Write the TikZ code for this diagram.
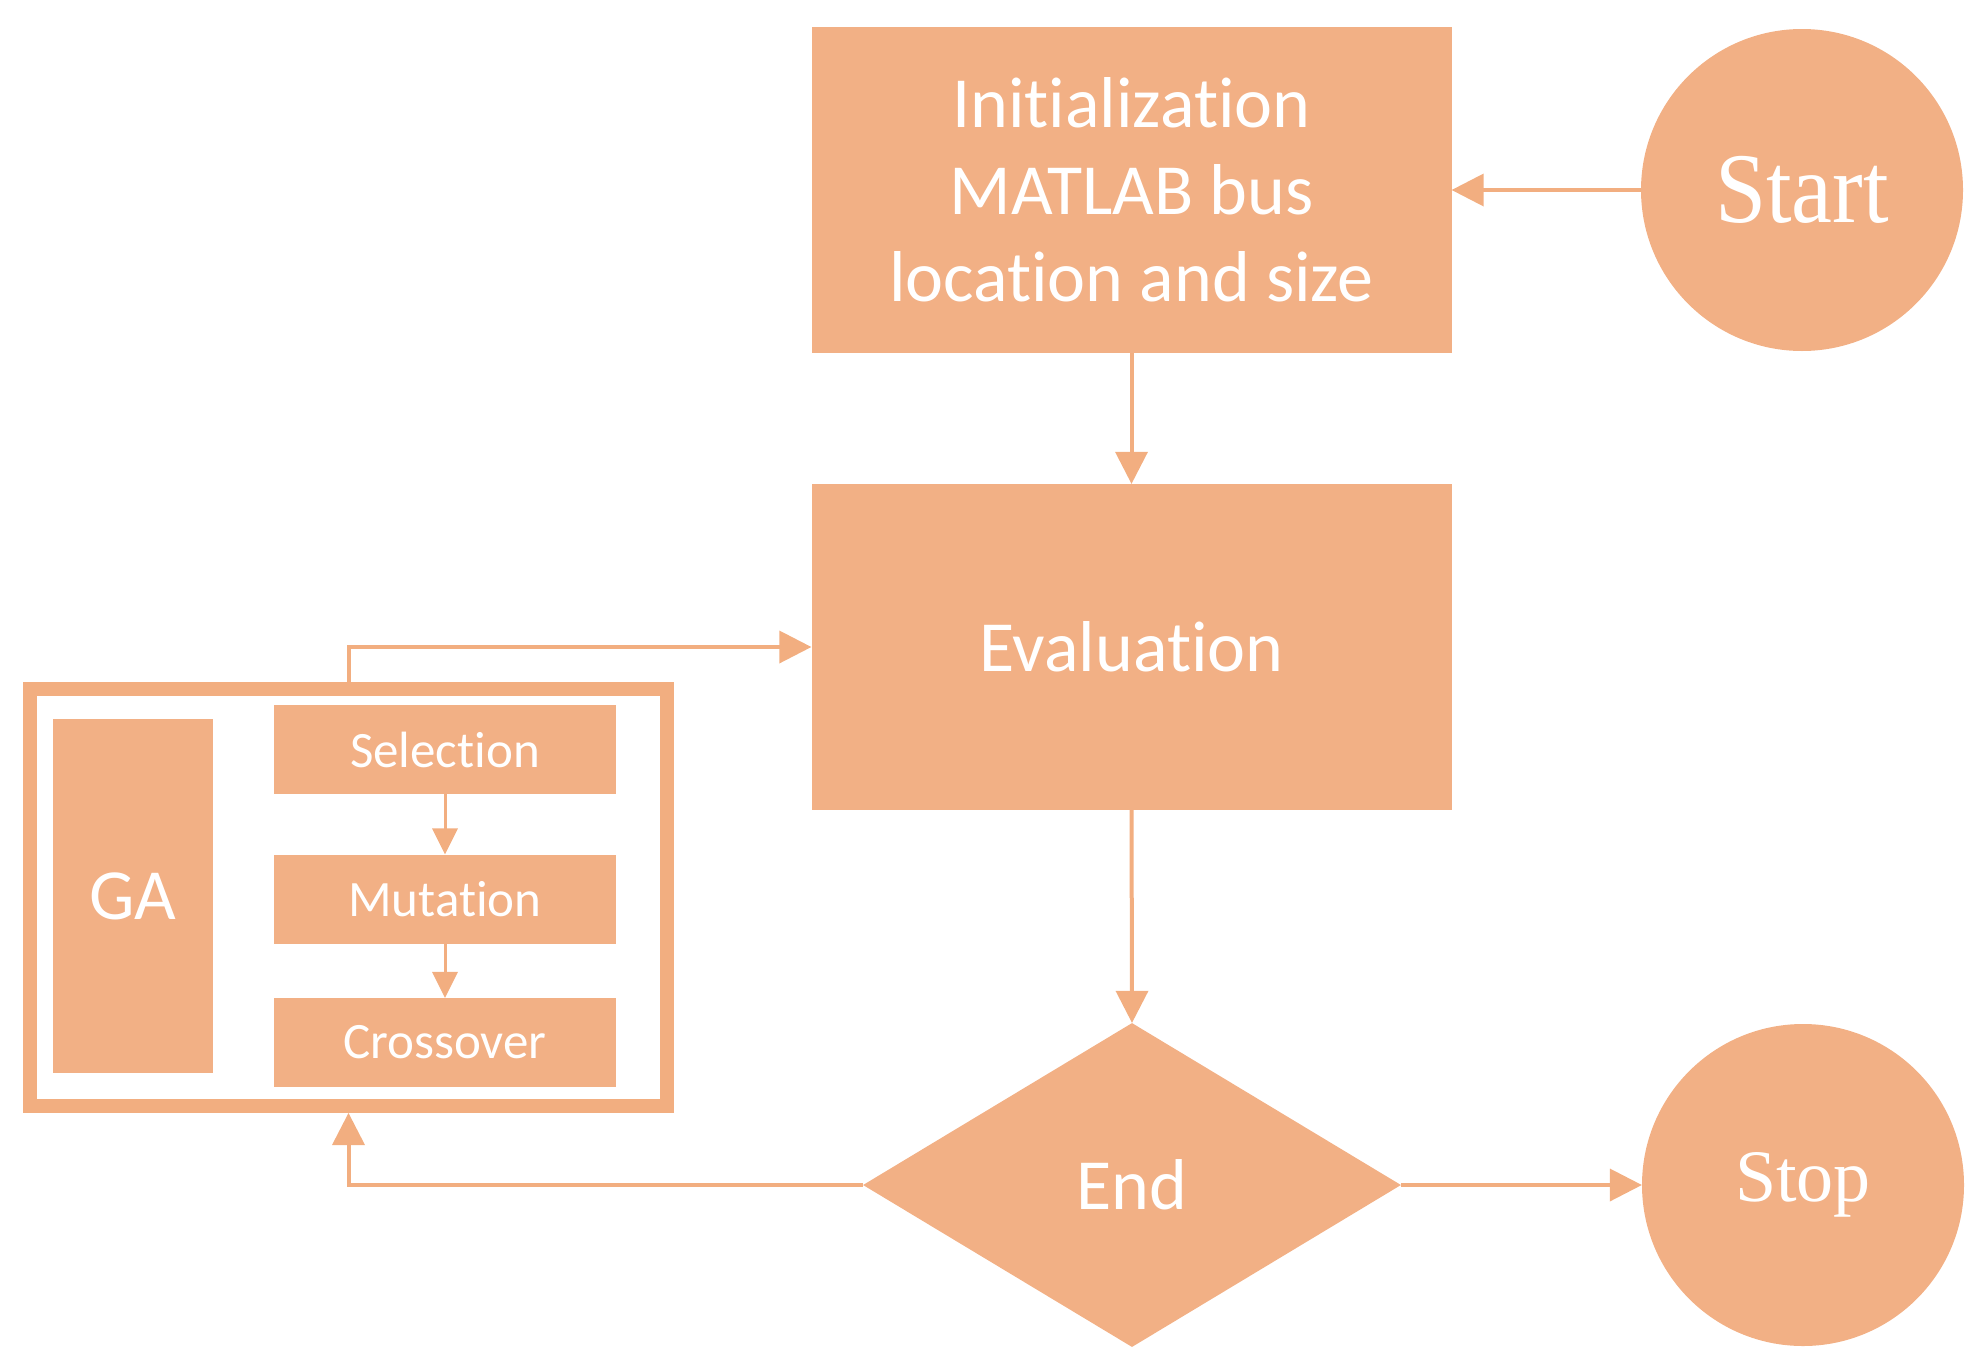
\documentclass[tikz,border=0pt]{standalone}
\usepackage{fontspec}
\usepackage{graphicx}
\setmainfont{Carlito}[Ligatures={NoCommon}]
\newfontfamily\serifft{Liberation Serif}
\usetikzlibrary{shapes.geometric}
\definecolor{orfill}{HTML}{F2B085}
\definecolor{orline}{HTML}{F2AE80}
\tikzset{
  box/.style={fill=orfill, text=white, align=center, inner sep=0pt,
    font=\fontsize{72}{87}\selectfont},
  smallbox/.style={fill=orfill, text=white, align=center, inner sep=0pt,
    minimum width=342pt, minimum height=89pt, font=\fontsize{51}{60}\selectfont},
  circ/.style={circle, fill=orfill, text=white, inner sep=0pt, minimum size=322pt},
  conn/.style={draw=orline, line width=4pt, shorten >=28pt},
  thinconn/.style={draw=orline, line width=3pt, shorten >=22pt}
}
% filled arrow tips (tip point given as argument)
\newcommand\tipL[1]{\fill[orline] (#1) -- ++(32pt,16.5pt) -- ++(0pt,-33pt) -- cycle;}
\newcommand\tipR[1]{\fill[orline] (#1) -- ++(-32pt,16.5pt) -- ++(0pt,-33pt) -- cycle;}
\newcommand\tipD[1]{\fill[orline] (#1) -- ++(-16.5pt,32pt) -- ++(33pt,0pt) -- cycle;}
\newcommand\tipU[1]{\fill[orline] (#1) -- ++(-16.5pt,-32pt) -- ++(33pt,0pt) -- cycle;}
\newcommand\smalltipD[1]{\fill[orline] (#1) -- ++(-13pt,26pt) -- ++(26pt,0pt) -- cycle;}
\begin{document}
\begin{tikzpicture}[x=1pt,y=1pt]
\useasboundingbox (0,0) rectangle (1983,-1368);
% main nodes
\node[box, minimum width=640pt, minimum height=326pt] (init) at (1131.5,-190)
  {Initialization\\MATLAB bus\\location and size};
\node[circ] (start) at (1802,-190)
  {\scalebox{0.92}[1]{\serifft\fontsize{100}{100}\selectfont Start}};
\node[box, minimum width=640pt, minimum height=326pt] (eval) at (1131.5,-647) {Evaluation};
\node[box, diamond, minimum width=538pt, minimum height=324pt] (end) at (1132,-1185) {End};
\node[circ] (stop) at (1803,-1185)
  {\serifft\fontsize{74}{74}\selectfont Stop};
% GA block
\node[draw=orline, line width=14pt, minimum width=637pt, minimum height=417pt, inner sep=0pt]
  (gaouter) at (348.5,-897.5) {};
\node[box, minimum width=160pt, minimum height=354pt] (ga) at (133,-896) {GA};
\node[smallbox] (sel) at (445,-749.5) {Selection};
\node[smallbox] (mut) at (445,-899) {Mutation};
\node[smallbox] (cro) at (445,-1042.5) {Crossover};
% connectors
\draw[conn] (start) -- (init);            \tipL{init.east}
\draw[conn] (init) -- (eval);             \tipD{eval.north}
\draw[conn] (eval) -- (end);              \tipD{end.north}
\draw[conn] (end) -- (stop);              \tipR{stop.west}
\draw[conn] (end.west) -| (gaouter.south); \tipU{gaouter.south}
\draw[conn] (gaouter.north) |- (eval.west); \tipR{eval.west}
\draw[thinconn] (sel) -- (mut);           \smalltipD{mut.north}
\draw[thinconn] (mut) -- (cro);           \smalltipD{cro.north}
\end{tikzpicture}
\end{document}
